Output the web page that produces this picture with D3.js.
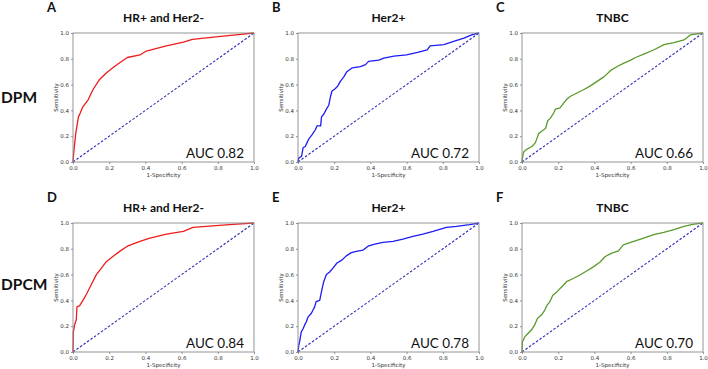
<!DOCTYPE html>
<html><head><meta charset="utf-8">
<script src="https://cdn.jsdelivr.net/npm/d3@7"></script>
<style>body{margin:0;background:#fff}svg{display:block}</style>
</head><body>
<svg id="c" width="708" height="369"></svg>
<script>
// ---- data ----
const xTicks = [0, 0.2, 0.4, 0.6, 0.8, 1.0];
const yTicks = [0, 0.2, 0.4, 0.6, 0.8, 1.0];
const panelLetters = ["A", "B", "C", "D", "E", "F"];
const panelTitles = ["HR+ and Her2-", "Her2+", "TNBC", "HR+ and Her2-", "Her2+", "TNBC"];
const rowLabels = ["DPM", "DPCM"];
const aucValues = ["0.82", "0.72", "0.66", "0.84", "0.78", "0.70"];

const fprA = [0,0.004,0.015,0.03,0.04,0.055,0.083,0.11,0.147,0.184,0.22,0.258,0.30,0.37,0.405,0.516,0.61,0.66,0.79,0.9,1];
const tprA = [0,0.07,0.22,0.35,0.38,0.43,0.48,0.56,0.64,0.69,0.73,0.77,0.81,0.83,0.86,0.90,0.93,0.95,0.97,0.985,1];

const fprB = [0,0.004,0.02,0.028,0.04,0.05,0.06,0.077,0.096,0.105,0.125,0.13,0.142,0.157,0.17,0.18,0.188,0.207,0.22,0.234,0.253,0.27,0.30,0.345,0.373,0.39,0.446,0.474,0.53,0.60,0.66,0.714,0.73,0.806,0.86,0.917,0.963,1];
const tprB = [0,0.03,0.045,0.11,0.12,0.15,0.18,0.21,0.25,0.28,0.28,0.35,0.37,0.41,0.44,0.51,0.55,0.57,0.59,0.625,0.66,0.70,0.73,0.74,0.755,0.78,0.79,0.806,0.82,0.83,0.85,0.87,0.90,0.91,0.935,0.96,0.987,1];

const fprC = [0,0.004,0.01,0.028,0.055,0.074,0.092,0.11,0.13,0.142,0.157,0.175,0.185,0.21,0.23,0.25,0.268,0.304,0.34,0.378,0.415,0.452,0.49,0.526,0.563,0.60,0.627,0.673,0.73,0.784,0.84,0.895,0.93,1];
const tprC = [0,0.044,0.08,0.1,0.12,0.15,0.22,0.24,0.26,0.32,0.34,0.38,0.41,0.42,0.457,0.49,0.51,0.535,0.56,0.59,0.625,0.66,0.71,0.74,0.767,0.79,0.81,0.836,0.87,0.91,0.925,0.946,0.985,1];

const fprD = [0,0.002,0.009,0.018,0.022,0.037,0.055,0.077,0.10,0.129,0.157,0.184,0.22,0.258,0.30,0.37,0.42,0.516,0.61,0.663,0.79,0.884,1];
const tprD = [0,0.156,0.21,0.25,0.35,0.36,0.40,0.455,0.52,0.60,0.65,0.70,0.74,0.78,0.82,0.857,0.88,0.914,0.935,0.966,0.98,0.99,1];

const fprE = [0,0.004,0.009,0.018,0.028,0.037,0.046,0.055,0.074,0.083,0.092,0.10,0.12,0.13,0.142,0.157,0.175,0.193,0.215,0.24,0.267,0.295,0.322,0.36,0.387,0.424,0.47,0.525,0.58,0.635,0.69,0.746,0.82,0.875,0.948,1];
const tprE = [0,0.05,0.08,0.156,0.18,0.21,0.234,0.27,0.30,0.325,0.35,0.39,0.40,0.47,0.545,0.60,0.62,0.65,0.69,0.71,0.745,0.77,0.78,0.79,0.82,0.836,0.85,0.857,0.875,0.896,0.914,0.935,0.966,0.974,0.987,1];

const fprF = [0,0.002,0.015,0.033,0.052,0.07,0.085,0.107,0.126,0.139,0.154,0.17,0.194,0.22,0.246,0.283,0.32,0.357,0.394,0.43,0.46,0.496,0.533,0.56,0.617,0.672,0.728,0.783,0.84,0.894,0.95,1];
const tprF = [0,0.078,0.117,0.143,0.17,0.21,0.26,0.286,0.325,0.364,0.39,0.44,0.468,0.506,0.545,0.57,0.597,0.628,0.66,0.696,0.74,0.766,0.784,0.83,0.857,0.883,0.909,0.927,0.948,0.974,0.992,1];

// ---- layout ----
const curves = [[fprA,tprA],[fprB,tprB],[fprC,tprC],[fprD,tprD],[fprE,tprE],[fprF,tprF]];
const colors = ["#ee1c1c","#1c1cf5","#5a9a2a"];
const colX = [73, 298, 522];
const rowY = [33, 223];
const rowLabelY = [103, 290];
const W = 181, H = 129;
const boldFont = "Lato, 'Liberation Sans', sans-serif";
const smallFont = "'DejaVu Sans', sans-serif";

const svg = d3.select("#c");

rowLabels.forEach((t, r) => {
  svg.append("text").attr("x", 1).attr("y", rowLabelY[r])
    .attr("font-family", boldFont).attr("font-weight", 700)
    .attr("font-size", 15.5).attr("fill", "#111").text(t);
});

curves.forEach((c, i) => {
  const r = Math.floor(i / 3), col = i % 3;
  const x = d3.scaleLinear().domain([0, 1]).range([0, W]);
  const y = d3.scaleLinear().domain([0, 1]).range([H, 0]);
  const g = svg.append("g").attr("transform", `translate(${colX[col]},${rowY[r]})`);

  // letter + title
  g.append("text").attr("x", -26).attr("y", -21)
    .attr("font-family", boldFont).attr("font-weight", 700)
    .attr("font-size", 13).attr("fill", "#111").text(panelLetters[i]);
  g.append("text").attr("x", W / 2).attr("y", -11).attr("text-anchor", "middle")
    .attr("font-family", boldFont).attr("font-weight", 700)
    .attr("font-size", 12).attr("fill", "#111").text(panelTitles[i]);

  // axes
  const xa = g.append("g").attr("transform", `translate(0,${H})`)
    .call(d3.axisBottom(x).tickValues(xTicks).tickFormat(d3.format(".1f")).tickSize(2).tickPadding(2));
  const ya = g.append("g")
    .call(d3.axisLeft(y).tickValues(yTicks).tickFormat(d3.format(".1f")).tickSize(2).tickPadding(2));
  [xa, ya].forEach(a => {
    a.select(".domain").remove();
    a.selectAll("line").attr("stroke", "#666").attr("stroke-width", 0.7);
    a.selectAll("text").attr("font-family", smallFont).attr("font-size", 5.5).attr("fill", "#333");
  });

  g.append("text").attr("x", W / 2).attr("y", H + 15).attr("text-anchor", "middle")
    .attr("font-family", smallFont).attr("font-size", 5.5).attr("fill", "#333").text("1-Specificity");
  g.append("text").attr("transform", `translate(-15,${H / 2}) rotate(-90)`).attr("text-anchor", "middle")
    .attr("font-family", smallFont).attr("font-size", 5.5).attr("fill", "#333").text("Sensitivity");

  // diagonal
  g.append("line").attr("x1", x(0)).attr("y1", y(0)).attr("x2", x(1)).attr("y2", y(1))
    .attr("stroke", "#2a2ab8").attr("stroke-width", 1.1).attr("stroke-dasharray", "2.5,1.8");

  // ROC curve
  const pts = c[0].map((v, k) => [v, c[1][k]]);
  g.append("path").datum(pts)
    .attr("d", d3.line().x(d => x(d[0])).y(d => y(d[1])))
    .attr("fill", "none").attr("stroke", colors[col]).attr("stroke-width", 1.3)
    .attr("stroke-linejoin", "round");

  // frame
  g.append("rect").attr("width", W).attr("height", H).attr("fill", "none")
    .attr("stroke", "#8a8a8a").attr("stroke-width", 0.9);

  // AUC
  g.append("text").attr("x", W - 10).attr("y", H - 4).attr("text-anchor", "end")
    .attr("font-family", boldFont).attr("font-size", 13.5).attr("fill", "#111")
    .text("AUC " + aucValues[i]);
});
</script>
</body></html>
